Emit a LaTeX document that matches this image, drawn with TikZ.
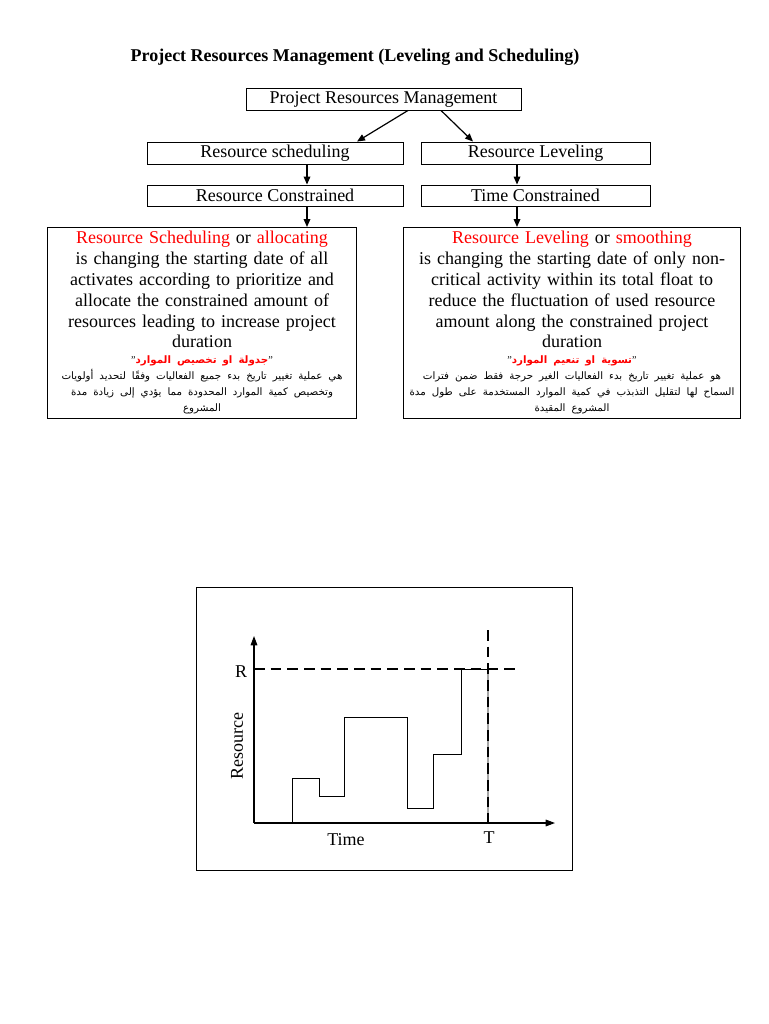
\documentclass[tikz,border=0pt]{standalone}
\usepackage{fontspec}
\setmainfont{Liberation Serif}
\newfontfamily\arabicfont[Script=Arabic]{DejaVu Sans}
\TeXXeTstate=1
\usetikzlibrary{arrows.meta,positioning,calc}

% Arabic line, right to left
\newcommand{\arline}[1]{{\arabicfont\beginR #1\endR}}

\begin{document}
\begin{tikzpicture}[x=0.75pt, y=-0.75pt,
  every node/.style={font=\fontsize{13.5}{15.6}\selectfont},
  box/.style={draw, line width=0.7pt, inner sep=0pt},
  bigbox/.style={draw, line width=0.7pt, anchor=north, align=center, inner sep=2pt},
  arr/.style={-{Triangle[length=6pt,width=5pt]}, line width=0.9pt},
  axis/.style={-{Triangle[length=7pt,width=5pt]}, line width=0.8pt},
  limit/.style={line width=1.8pt, dash pattern=on 8pt off 4.5pt}]
  \useasboundingbox[fill=white] (0,0) rectangle (768,1024);

  \node[font=\fontsize{13.5}{15.6}\selectfont\bfseries] (title) at (355,57) {Project Resources Management (Leveling and Scheduling)};

  \node[box, minimum width=206.25pt, minimum height=16.5pt] (prm) at (383.5,99) {Project Resources Management};
  \node[box, minimum width=192pt, minimum height=16.5pt] (sched) at (275,153) {Resource scheduling};
  \node[box, minimum width=171.75pt, minimum height=16.5pt] (level) at (535.5,153) {Resource Leveling};
  \node[box, minimum width=192pt, minimum height=15.75pt] (rescon) at (275,195.5) {Resource Constrained};
  \node[box, minimum width=171.75pt, minimum height=15.75pt] (timecon) at (535.5,195.5) {Time Constrained};

  \node[bigbox, text width=228pt, minimum height=143.25pt] (schedbox) at (202,227) {%
    \textcolor{red}{Resource Scheduling} or \textcolor{red}{allocating}\\
    is changing the starting date of all\\
    activates according to prioritize and\\
    allocate the constrained amount of\\
    resources leading to increase project\\
    duration\par
    {\fontsize{7.7}{12}\selectfont
    "\textcolor{red}{\arline{\bfseries جدولة او تخصيص الموارد}}"\\
    \arline{هي عملية تغيير تاريخ بدء جميع الفعاليات وفقًا لتحديد أولويات}\\
    \arline{وتخصيص كمية الموارد المحدودة مما يؤدي إلى زيادة مدة}\\
    \arline{المشروع}\par}};
  \node[bigbox, text width=249pt, minimum height=143.25pt] (levelbox) at (572,227) {%
    \textcolor{red}{Resource Leveling} or \textcolor{red}{smoothing}\\
    is changing the starting date of only non-\\
    critical activity within its total float to\\
    reduce the fluctuation of used resource\\
    amount along the constrained project\\
    duration\par
    {\fontsize{7.7}{12}\selectfont
    "\textcolor{red}{\arline{\bfseries تسوية او تنعيم الموارد}}"\\
    \arline{هو عملية تغيير تاريخ بدء الفعاليات الغير حرجة فقط ضمن فترات}\\
    \arline{السماح لها لتقليل التذبذب في كمية الموارد المستخدمة على طول مدة}\\
    \arline{المشروع المقيدة}\par}};

  \draw[arr] ($(prm.south)+(24.5,0)$) -- ($(sched.north)+(82,0)$);
  \draw[arr] ($(prm.south)+(57.5,0)$) -- ($(level.north)+(-62.5,0)$);
  \draw[arr] ($(sched.south)+(32,0)$) -- ($(rescon.north)+(32,0)$);
  \draw[arr] ($(level.south)+(-18.5,0)$) -- ($(timecon.north)+(-18.5,0)$);
  \draw[arr] ($(rescon.south)+(32,0)$) -- (schedbox.north -| 307,0);
  \draw[arr] ($(timecon.south)+(-18.5,0)$) -- (levelbox.north -| 517,0);

  % resource histogram
  \draw[line width=0.7pt] (196,587) rectangle (572,870);
  \coordinate (o) at (254,823);
  \draw[axis] (o) -- (555,823);
  \draw[axis] (o) -- (254,636);
  \draw[line width=0.7pt] (292,823) |- (319,778) |- (344,796) |- (407,717) |- (433,808) |- (461,754) |- (488,669);
  \draw[gray!70, line width=1.2pt] (488,669) -- (488,823);
  \draw[limit] (254,669) -- (518,669);
  \draw[limit] (488,630) -- (488,823);
  \node (rlab) at (241,672) {R};
  \node[rotate=90] (reslab) at (237,746) {Resource};
  \node (timelab) at (346,840) {Time};
  \node (tlab) at (489,838) {T};
\end{tikzpicture}
\end{document}
